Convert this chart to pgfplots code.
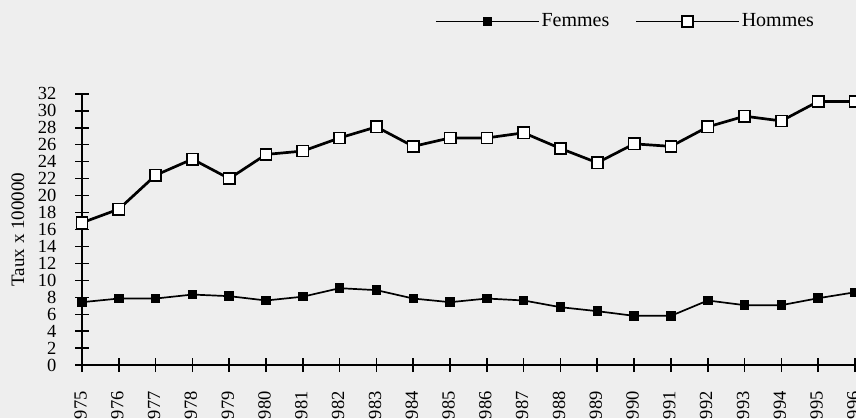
\documentclass[border=0pt]{standalone}
\usepackage{pgfplots}
\pgfplotsset{compat=1.18}
\usepackage{fontspec}
\setmainfont{Liberation Serif}
\definecolor{bg}{RGB}{238,238,238}

\pgfplotstableread{
year femmes hommes
1975 7.43 16.8
1976 7.86 18.4
1977 7.86 22.4
1978 8.33 24.3
1979 8.14 22.0
1980 7.63 24.85
1981 8.08 25.25
1982 9.08 26.8
1983 8.85 28.1
1984 7.86 25.8
1985 7.43 26.8
1986 7.86 26.8
1987 7.63 27.4
1988 6.84 25.55
1989 6.37 23.87
1990 5.82 26.1
1991 5.82 25.8
1992 7.63 28.1
1993 7.08 29.36
1994 7.08 28.8
1995 7.9 31.1
1996 8.6 31.1
}\rates

\begin{document}
\fontsize{18}{21}\selectfont
\begin{tikzpicture}
\clip (0pt,0pt) rectangle (856pt,418pt);
\fill[bg] (0pt,0pt) rectangle (856pt,418pt);
\begin{axis}[
    at={(82pt,52.8pt)},
    anchor=south west,
    scale only axis,
    width=773pt,
    height=271.4pt,
    xmin=1975, xmax=1996,
    ymin=0, ymax=32,
    clip=false,
    axis x line=bottom,
    axis y line=left,
    axis line style={-, line width=1.6pt},
    xtick={1975,...,1996},
    ytick={0,2,...,32},
    tick align=center,
    major tick length=14pt,
    tick style={black, line width=1.6pt},
    /pgf/number format/assume math mode=true,
    /pgf/number format/1000 sep={},
    xticklabel shift=13pt,
    xticklabel style={rotate=90, anchor=east, yshift=1.5pt, font=\fontsize{18.5}{18.5}\selectfont},
    yticklabel style={anchor=east, xshift=-12.5pt, font=\fontsize{18.5}{18.5}\selectfont},
    ylabel={Taux x 100000},
    ylabel style={at={(axis description cs:-0.083,0.5)}, anchor=center, font=\fontsize{19}{19}\selectfont},
    legend columns=2,
    legend style={at={(axis description cs:0.4567,1.266)}, anchor=west,
        draw=none, fill=none, inner sep=0pt,
        font=\fontsize{20}{20}\selectfont,
        /tikz/every even column/.append style={column sep=24pt}},
    legend image code/.code={
        \draw[mark repeat=2,mark phase=2,#1,line width=1.4pt] plot coordinates {(0pt,0pt) (51.5pt,0pt) (103pt,0pt)};
    },
]
\addplot[black, line width=1.7pt, mark=square*, mark size=3.9pt, mark options={solid, fill=black}]
    table[x=year, y=femmes] {\rates};
\addlegendentry{Femmes}
\addplot[black, line width=2.7pt, mark=square*, mark size=5.6pt, mark options={solid, fill=white, line width=1.6pt}]
    table[x=year, y=hommes] {\rates};
\addlegendentry{Hommes}
\end{axis}
\end{tikzpicture}
\end{document}
